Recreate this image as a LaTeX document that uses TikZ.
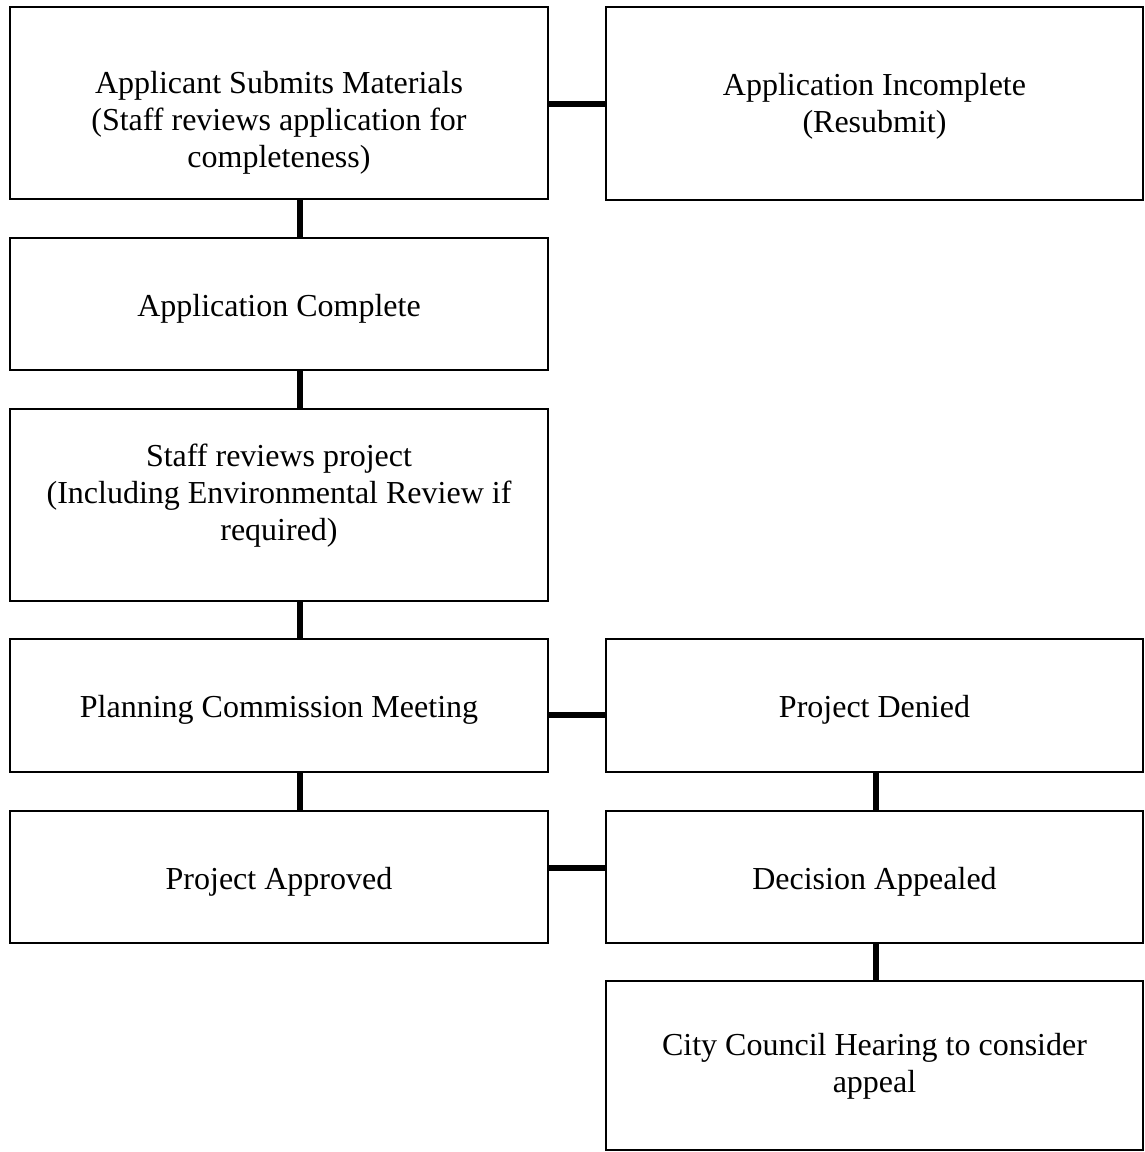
\documentclass[tikz,border=0pt]{standalone}
\usepackage{fontspec}
\setmainfont{Liberation Serif}
\begin{document}
\begin{tikzpicture}[x=1pt,y=-1pt,
  box/.style={draw=black, line width=2pt, rectangle, inner sep=0pt},
  txt/.style={align=center, inner sep=0pt, font=\fontsize{32}{37}\selectfont},
  leftbox/.style={box, minimum width=538pt},
  rightbox/.style={box, minimum width=537pt},
  link/.style={draw=black, line width=6pt}]
\fill[white] (0,0) rectangle (1145,1152);
\useasboundingbox (0,0) rectangle (1145,1152);

\node[leftbox, minimum height=192pt, label={[txt, yshift=-20pt]center:{Applicant Submits Materials\\(Staff reviews application for\\completeness)}}] (A) at (279,103) {};
\node[rightbox, minimum height=193pt, label={[txt, yshift=-3pt]center:{Application Incomplete\\(Resubmit)}}] (B) at (874.5,103.5) {};
\node[leftbox, minimum height=132pt, label={[txt, yshift=-5pt]center:{Application Complete}}] (C) at (279,304) {};
\node[leftbox, minimum height=192pt, label={[txt, yshift=9pt]center:{Staff reviews project\\(Including Environmental Review if\\required)}}] (D) at (279,505) {};
\node[leftbox, minimum height=133pt, label={[txt, yshift=-4pt]center:{Planning Commission Meeting}}] (E) at (279,705.5) {};
\node[rightbox, minimum height=133pt, label={[txt, yshift=-4pt]center:{Project Denied}}] (F) at (874.5,705.5) {};
\node[leftbox, minimum height=132pt, label={[txt, yshift=-5pt]center:{Project Approved}}] (G) at (279,877) {};
\node[rightbox, minimum height=132pt, label={[txt, yshift=-5pt]center:{Decision Appealed}}] (H) at (874.5,877) {};
\node[rightbox, minimum height=169pt, label={[txt, yshift=-1pt]center:{City Council Hearing to consider\\appeal}}] (I) at (874.5,1065.5) {};

\draw[link] ([yshift=-1pt]A.east) -- ([yshift=-1pt]A.east -| B.west);
\draw[link] ([xshift=21pt]A.south) -- ([xshift=21pt]C.north);
\draw[link] ([xshift=21pt]C.south) -- ([xshift=21pt]D.north);
\draw[link] ([xshift=21pt]D.south) -- ([xshift=21pt]E.north);
\draw[link] ([yshift=-9.5pt]E.east) -- ([yshift=-9.5pt]F.west);
\draw[link] ([xshift=21pt]E.south) -- ([xshift=21pt]G.north);
\draw[link] ([xshift=1.5pt]F.south) -- ([xshift=1.5pt]H.north);
\draw[link] ([yshift=9pt]G.east) -- ([yshift=9pt]H.west);
\draw[link] ([xshift=1.5pt]H.south) -- ([xshift=1.5pt]I.north);
\end{tikzpicture}
\end{document}
